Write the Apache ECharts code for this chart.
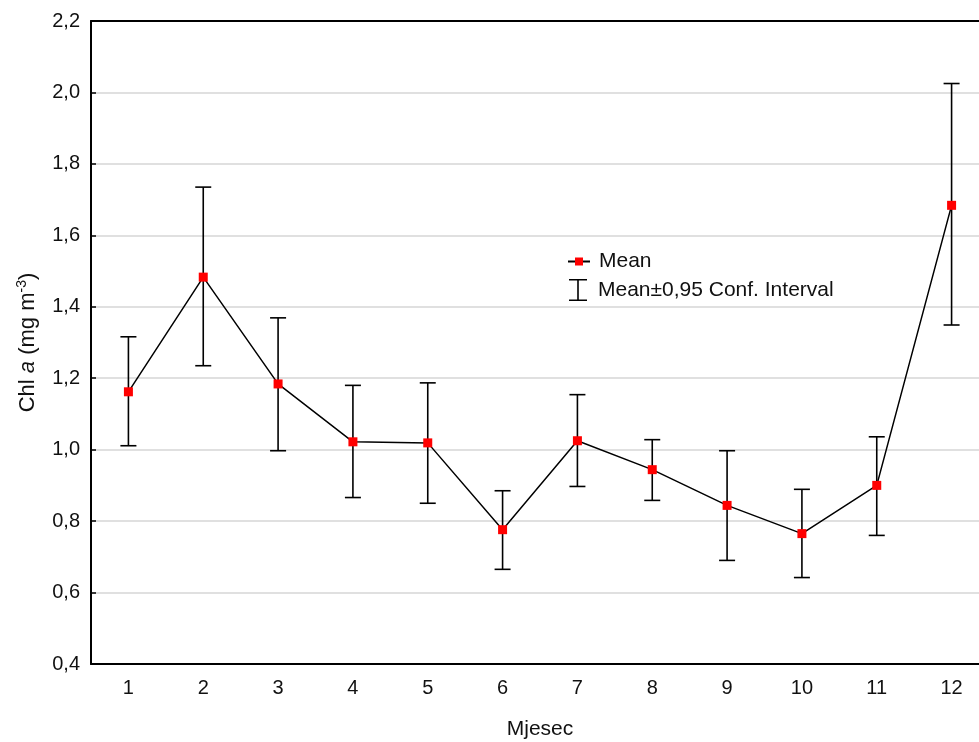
<!DOCTYPE html>
<html>
<head>
<meta charset="utf-8">
<script src="https://cdn.jsdelivr.net/npm/echarts@6/dist/echarts.min.js"></script>
<style>
html,body{margin:0;padding:0;overflow:hidden;background:#fff;}
#c{width:990px;height:742px;}
</style>
</head>
<body>
<div id="c"></div>
<script>
const months = ['1','2','3','4','5','6','7','8','9','10','11','12'];
const meanValues = [1.162, 1.483, 1.184, 1.022, 1.019, 0.776, 1.025, 0.944, 0.844, 0.765, 0.900, 1.684];
const upperCI   = [1.316, 1.735, 1.369, 1.180, 1.187, 0.885, 1.154, 1.028, 0.997, 0.889, 1.036, 2.025];
const lowerCI   = [1.011, 1.235, 0.997, 0.866, 0.850, 0.665, 0.897, 0.858, 0.690, 0.642, 0.760, 1.349];
const yTicks = [0.4, 0.6, 0.8, 1.0, 1.2, 1.4, 1.6, 1.8, 2.0, 2.2];

const FONT = 'Liberation Sans, Arial, sans-serif';
const FS = 20;
const FN = 21;
const chart = echarts.init(document.getElementById('c'));
const errData = months.map((m, i) => [i, lowerCI[i], upperCI[i]]);

const option = {
  animation: false,
  textStyle: { fontFamily: FONT },
  grid: { left: 91, top: 21, right: 1, bottom: 78, containLabel: false, outerBoundsMode: 'none' },
  legend: [
    {
      data: ['Mean'], orient: 'vertical', left: 562, top: 246,
      itemWidth: 22, itemHeight: 10, itemGap: 6,
      textStyle: { fontFamily: FONT, fontSize: FN, color: '#111', padding: [0, 0, 0, 4] }
    },
    {
      data: [{ name: 'Mean±0,95 Conf. Interval', icon: 'path://M0,0 L18,0 L18,1.6 L9.8,1.6 L9.8,20.4 L18,20.4 L18,22 L0,22 L0,20.4 L8.2,20.4 L8.2,1.6 L0,1.6 Z' }],
      orient: 'vertical', left: 564, top: 274,
      itemWidth: 18, itemHeight: 22, itemGap: 6,
      textStyle: { fontFamily: FONT, fontSize: FN, color: '#111', padding: [0, 0, 0, 6] }
    }
  ],
  xAxis: [
    {
      type: 'category', data: months, position: 'bottom',
      name: 'Mjesec', nameLocation: 'middle', nameGap: 55,
      nameTextStyle: { fontFamily: FONT, fontSize: FN, color: '#111' },
      axisLine: { lineStyle: { color: '#000', width: 2 } },
      axisTick: { alignWithLabel: true, inside: true, length: 5, lineStyle: { color: '#000', width: 1.5 } },
      axisLabel: { fontFamily: FONT, fontSize: FS, color: '#111', margin: 14 },
      splitLine: { show: false }
    },
    {
      type: 'category', data: months, position: 'top',
      axisLine: { lineStyle: { color: '#000', width: 2 } },
      axisTick: { alignWithLabel: true, inside: true, length: 5, lineStyle: { color: '#000', width: 1.5 } },
      axisLabel: { show: false },
      splitLine: { show: false }
    }
  ],
  yAxis: {
    type: 'value', min: yTicks[0], max: yTicks[yTicks.length - 1], interval: 0.2,
    name: '{n|Chl }{i|a}{n| (mg m}{s|-3}{n|)}',
    nameLocation: 'middle', nameGap: 50, nameRotate: 90,
    nameTextStyle: {
      fontFamily: FONT, fontSize: FN, color: '#111',
      rich: {
        n: { fontFamily: FONT, fontSize: FN + 1, color: '#111' },
        i: { fontFamily: FONT, fontSize: FN + 1, color: '#111', fontStyle: 'italic' },
        s: { fontFamily: FONT, fontSize: 14, color: '#111', padding: [0, 0, 12, 0] }
      }
    },
    axisLine: { show: true, lineStyle: { color: '#000', width: 2 } },
    axisTick: { show: true, inside: true, length: 5, lineStyle: { color: '#000', width: 1.5 } },
    axisLabel: {
      fontFamily: FONT, fontSize: FS, color: '#111', margin: 11,
      formatter: v => v.toFixed(1).replace('.', ',')
    },
    splitLine: { show: true, lineStyle: { color: '#d6d6d6', width: 1.5 } }
  },
  series: [
    {
      name: 'Mean±0,95 Conf. Interval',
      type: 'custom',
      itemStyle: { color: '#000' },
      data: errData,
      z: 2,
      renderItem: function (params, api) {
        const x = api.value(0);
        const lo = api.coord([x, api.value(1)]);
        const hi = api.coord([x, api.value(2)]);
        const hw = 8;
        const st = { stroke: '#000', lineWidth: 1.6 };
        return {
          type: 'group',
          children: [
            { type: 'line', shape: { x1: lo[0], y1: lo[1], x2: hi[0], y2: hi[1] }, style: st },
            { type: 'line', shape: { x1: lo[0] - hw, y1: lo[1], x2: lo[0] + hw, y2: lo[1] }, style: st },
            { type: 'line', shape: { x1: hi[0] - hw, y1: hi[1], x2: hi[0] + hw, y2: hi[1] }, style: st }
          ]
        };
      }
    },
    {
      name: 'Mean',
      type: 'line',
      data: meanValues,
      z: 3,
      symbol: 'rect',
      symbolSize: 9,
      lineStyle: { color: '#000', width: 1.5 },
      itemStyle: { color: '#ff0000', borderWidth: 0 }
    }
  ]
};
chart.setOption(option);
</script>
</body>
</html>
